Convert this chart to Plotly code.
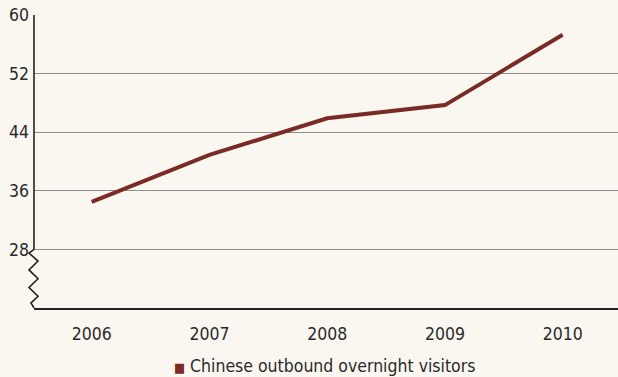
import plotly.graph_objects as go

years = [2006, 2007, 2008, 2009, 2010]
visitors = [34.5, 40.9, 45.9, 47.7, 57.3]
y_ticks = [28, 36, 44, 52, 60]
series_name = "Chinese outbound overnight visitors"

LINE_COLOR = "#7a2b25"
BG = "#faf7f0"
FONT = "Liberation Sans Narrow, DejaVu Sans Condensed, Arial Narrow, sans-serif"

fig = go.Figure()
fig.add_trace(go.Scatter(
    x=years, y=visitors, mode="lines",
    line=dict(color=LINE_COLOR, width=4),
    showlegend=False, hoverinfo="x+y",
))

# axis break: straight spine above 28, zigzag below
zig_y = [28, 27.5, 26.4, 25.2, 24.0, 22.8, 21.6, 20.7, 20]
zig_x = [0, -5, 4, -5, 4, -5, 4, -3, 0]
path = "M " + " L ".join(f"{x},{y}" for x, y in zip(zig_x, zig_y))
fig.add_shape(type="path", path=path, xref="paper", xanchor=0, xsizemode="pixel",
              yref="y", line=dict(color="#222", width=1.6))
fig.add_shape(type="line", xref="paper", yref="y", x0=0, x1=0, y0=28, y1=60,
              line=dict(color="#222", width=1.6))

# legend line below the axis
fig.add_annotation(
    xref="paper", yref="paper", x=0.498, y=-0.198, xanchor="center", yanchor="middle",
    text=f"<span style='color:{LINE_COLOR};font-size:13px'>■</span> {series_name}",
    showarrow=False, font=dict(size=17.5),
)

fig.update_layout(
    width=618, height=377,
    margin=dict(l=34, r=0, t=15, b=69),
    paper_bgcolor=BG, plot_bgcolor=BG,
    font=dict(family=FONT, size=17.5, color="#2a2a2a"),
    showlegend=False,
    xaxis=dict(range=[2005.51, 2010.47], tickvals=years, ticktext=[str(y) for y in years],
               showgrid=False, zeroline=False, showline=True, linecolor="#222", linewidth=2,
               ticks="", ticklabelstandoff=9),
    yaxis=dict(range=[20, 60], tickvals=y_ticks, showgrid=True, gridcolor="#8f8f8f",
               gridwidth=1.4, zeroline=False, showline=False, ticks="",
               ticklabelstandoff=4),
)

fig.write_html("out.html")
